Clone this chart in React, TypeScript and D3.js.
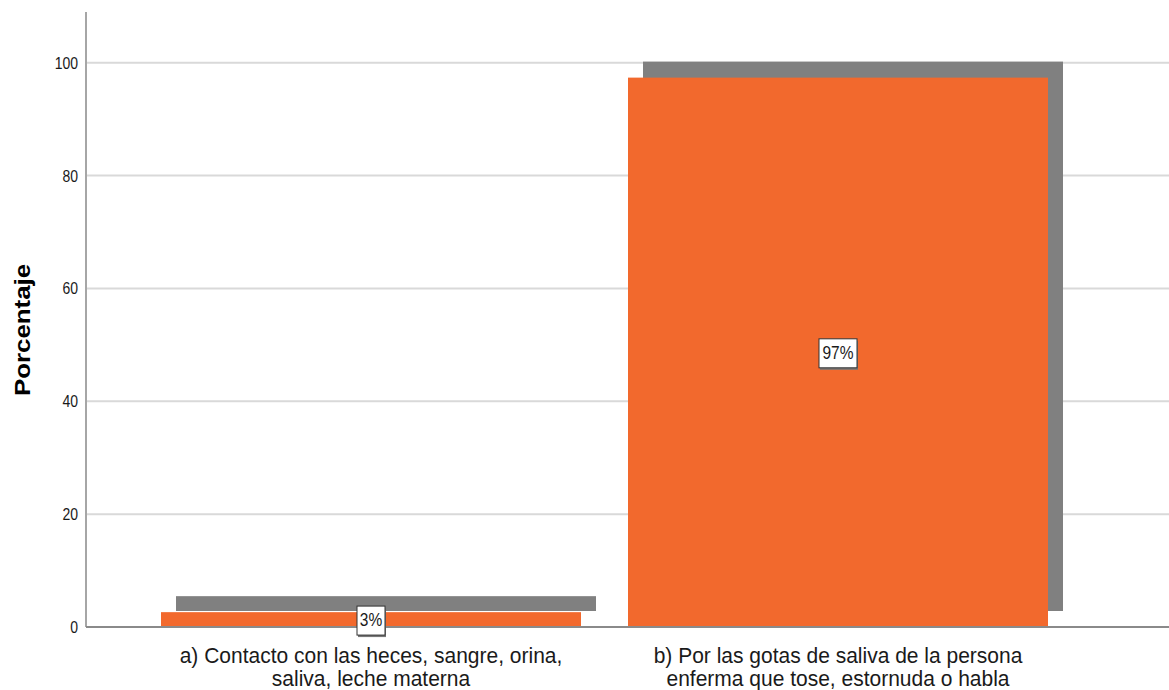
import React from "react";
import * as d3 from "d3";

const categories = [
  ["a) Contacto con las heces, sangre, orina,", "saliva, leche materna"],
  ["b) Por las gotas de saliva de la persona", "enferma que tose, estornuda o habla"],
];
const values = [2.63, 97.37];
const valueLabels = ["3%", "97%"];
const yTicks = [0, 20, 40, 60, 80, 100];
const yTitle = "Porcentaje";

const W = 1169;
const H = 690;
const ORANGE = "#F2692D";
const SHADOW = "#808080";
const DX = 15;
const DY = -16;
const SY = 1.15;

export default function App() {
  const y = d3.scaleLinear().domain([0, 109]).range([627, 12]);
  const x = d3
    .scaleBand<number>()
    .domain(categories.map((_, i) => i))
    .range([137.5, 1071.5])
    .paddingInner(47 / 467)
    .paddingOuter(47 / 467 / 2);
  const y0 = y(0);
  const xAxisX = 86;

  return (
    <svg
      width={W}
      height={H}
      style={{ position: "absolute", left: 0, top: 0, background: "#fff" }}
      fontFamily="'Liberation Sans', Arial, sans-serif"
    >
      {yTicks
        .filter((t) => t > 0)
        .map((t) => (
          <line key={t} x1={xAxisX} x2={W} y1={y(t)} y2={y(t)} stroke="#d9d9d9" strokeWidth={2} />
        ))}
      {values.map((v, i) => (
        <rect
          key={"s" + i}
          x={(x(i) as number) + DX}
          y={y(v) + DY}
          width={x.bandwidth()}
          height={y0 - y(v)}
          fill={SHADOW}
        />
      ))}
      {values.map((v, i) => (
        <rect
          key={"b" + i}
          x={x(i) as number}
          y={y(v)}
          width={x.bandwidth()}
          height={y0 - y(v)}
          fill={ORANGE}
        />
      ))}
      <line x1={xAxisX} x2={xAxisX} y1={12} y2={y0} stroke="#a6a6a6" strokeWidth={2} />
      <line x1={xAxisX} x2={W} y1={y0} y2={y0} stroke="#8a8a8a" strokeWidth={2} />
      {yTicks.map((t) => (
        <g key={"t" + t} transform={`translate(78,${y(t)}) scale(1,1.2)`}>
          <text textAnchor="end" dominantBaseline="central" fontSize={14} fill="#1a1a1a">
            {t}
          </text>
        </g>
      ))}
      <g transform={`translate(30,330) scale(1,${SY}) rotate(-90)`}>
        <text textAnchor="middle" fontSize={22.5} fontWeight="bold" fill="#000">
          {yTitle}
        </text>
      </g>
      {categories.map((lines, i) => {
        const cx = (x(i) as number) + x.bandwidth() / 2;
        return lines.map((ln, j) => (
          <g key={"x" + i + j} transform={`translate(${cx},${662.5 + j * 23.5}) scale(1,1.05)`}>
            <text textAnchor="middle" fontSize={21} fill="#1a1a1a">
              {ln}
            </text>
          </g>
        ));
      })}
      {values.map((v, i) => {
        const cx = (x(i) as number) + x.bandwidth() / 2;
        const cy = (y(v) + y0) / 2 + 1;
        const w = valueLabels[i].length === 2 ? 28 : 38;
        const h = 29;
        return (
          <g key={"l" + i}>
            <rect x={cx - w / 2 + 1} y={cy - h / 2 + 2} width={w} height={h} fill="#777" />
            <rect x={cx - w / 2} y={cy - h / 2} width={w} height={h} fill="#fff" stroke="#333" strokeWidth={1} />
            <g transform={`translate(${cx},${cy}) scale(1,1.17)`}>
              <text textAnchor="middle" dominantBaseline="central" fontSize={15.5} fill="#1a1a1a">
                {valueLabels[i]}
              </text>
            </g>
          </g>
        );
      })}
    </svg>
  );
}
